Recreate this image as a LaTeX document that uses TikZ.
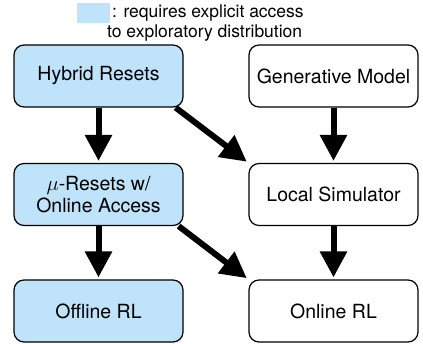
\documentclass[tikz,border=0pt]{standalone}
\usepackage{fontspec}
\setmainfont{TeX Gyre Heros}
\usepackage{tikz}
\usetikzlibrary{calc}
\usetikzlibrary{arrows.meta}

\definecolor{accessblue}{RGB}{191,227,250}

\begin{document}
\begin{tikzpicture}[x=1pt,y=1pt,
  setting/.style={draw=black,line width=1.2pt,rounded corners=10pt,minimum width=169pt,minimum height=62pt,align=center,font=\fontsize{19.5}{22}\selectfont,inner sep=0pt},
  access/.style={setting,fill=accessblue},
  keyline/.style={anchor=west,font=\fontsize{17.5}{20}\selectfont,inner sep=0pt},
  reduction/.style={black,line width=6pt,-{Triangle[length=26pt,width=26pt]},shorten >=2pt}]

\useasboundingbox (0,0) rectangle (423,343);

\coordinate (L1) at (98.5,267);
\coordinate (R1) at (333.5,267);
\coordinate (L2) at (98.5,148.5);
\coordinate (R2) at (333.5,148.5);
\coordinate (L3) at (98.5,32);
\coordinate (R3) at (333.5,32);

% legend
\node [fill=accessblue,minimum width=33pt,minimum height=20pt,inner sep=0pt] (key) at (93.5,330) {};
\node [keyline] (keytexta) at (112,330) {: requires explicit access};
\node [keyline] (keytextb) at (107,310) {to exploratory distribution};

\node [access] (hybrid) at (L1) {Hybrid Resets};
\node [setting] (genmodel) at (R1) {Generative Model};
\node [access] (mureset) at (L2) {$\mu$-Resets w/\\Online Access};
\node [setting] (localsim) at (R2) {Local Simulator};
\node [access] (offline) at (L3) {Offline RL};
\node [setting] (online) at (R3) {Online RL};

\draw[reduction] (hybrid.south) -- (mureset.north);
\draw[reduction] (mureset.south) -- (offline.north);
\draw[reduction] (genmodel.south) -- (localsim.north);
\draw[reduction] (localsim.south) -- (online.north);
\draw[reduction] ($(hybrid.south east)+(-8,0)$) -- (localsim.north west);
\draw[reduction] ($(mureset.south east)+(-5,0)$) -- (online.north west);

\end{tikzpicture}
\end{document}
